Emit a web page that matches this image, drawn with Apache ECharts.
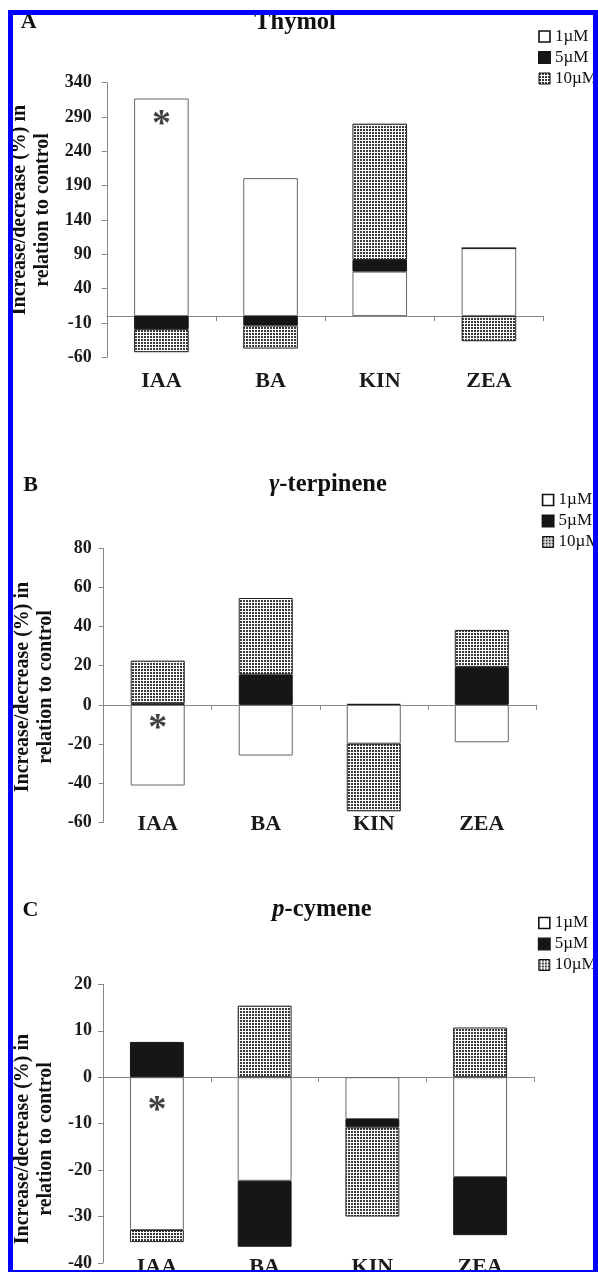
<!DOCTYPE html>
<html><head><meta charset="utf-8">
<script src="https://cdn.jsdelivr.net/npm/echarts/dist/echarts.min.js"></script>
<style>html,body{margin:0;padding:0;background:#fff}#c{width:598px;height:1272px}</style>
</head><body><div id="c"></div>
<script>
const categories = ['IAA', 'BA', 'KIN', 'ZEA'];
const seriesNames = ['1µM', '5µM', '10µM'];
// Panel A: Thymol
const thymol1 = [317, 201, 64.8, 99];
const thymol5 = [-19, -13.8, 17, 0];
const thymol10 = [-33.6, -33.5, 198.5, -36.6];
// Panel B: gamma-terpinene
const gterp1 = [-41.2, -25.9, -19.8, -19.1];
const gterp5 = [0.8, 15.5, 0.5, 19.4];
const gterp10 = [21.8, 39.1, -34.6, 18.9];
// Panel C: p-cymene
const pcym1 = [-32.9, -22.3, -9.0, -21.5];
const pcym5 = [7.6, -14.2, -1.8, -12.5];
const pcym10 = [-2.6, 15.4, -19.2, 10.7];
// asterisk marks (on IAA)
const starCategory = 'IAA';
const starValues = [278, -12.6, -7.4];
// y axis ranges
const yMin = [-60, -60, -40];
const yMax = [340, 80, 20];
const yStep = [50, 20, 10];
const panelLetters = ['A', 'B', 'C'];
const panelTitles = ['Thymol', '{i|γ}-terpinene', '{i|p}-cymene'];
const yName = 'Increase/decrease (%) in\nrelation to control';

const SERIF = '"Liberation Serif","Times New Roman",serif';
const panelData = [[thymol1, thymol5, thymol10], [gterp1, gterp5, gterp10], [pcym1, pcym5, pcym10]];

// layout (pixels)
const grids = [
  {left: 106.8, top: 82.7, width: 436.7, height: 274.6},
  {left: 103.7, top: 548.3, width: 432.1, height: 274},
  {left: 103, top: 984.3, width: 431, height: 278.7}
];
const labelMargin = [15, 12, 11];
const xLabelMargin = [13, -9, -6.5];
const legendPos = [{left: 538, top: 28}, {left: 541.6, top: 491.5}, {left: 537.8, top: 914.5}];
const titlePos = [{x: 295, y: 22.5}, {x: 328, y: 485}, {x: 322, y: 910}];
const letterPos = [{x: 28.6, y: 22.5}, {x: 30.5, y: 485}, {x: 30.5, y: 910}];
const yNamePos = [{x: 31, y: 210}, {x: 34.3, y: 687}, {x: 34.5, y: 1139}];

// dotted pattern
const pc = document.createElement('canvas');
pc.width = 3; pc.height = 3;
const g = pc.getContext('2d');
g.fillStyle = '#ffffff'; g.fillRect(0, 0, 3, 3);
g.fillStyle = '#3a3a3a'; g.fillRect(0, 0, 2, 2);
const dotted = {image: pc, repeat: 'repeat'};

const styles = [
  {color: '#ffffff', borderColor: '#666', borderWidth: 1},
  {color: '#161616', borderColor: '#161616', borderWidth: 1},
  {color: dotted, borderColor: '#222', borderWidth: 1}
];

const option = {
  animation: false,
  backgroundColor: '#fff',
  grid: grids.map(gr => Object.assign({containLabel: false, outerBoundsMode: 'none'}, gr)),
  xAxis: [],
  yAxis: [],
  legend: [],
  series: [],
  graphic: []
};

for (let k = 0; k < 3; k++) {
  option.xAxis.push({
    type: 'category', gridIndex: k, data: categories, position: 'bottom',
    axisLine: {show: true, onZero: true, lineStyle: {color: '#888', width: 1}},
    axisTick: {show: true, length: 5, lineStyle: {color: '#888'}},
    axisLabel: {show: false}, splitLine: {show: false}
  });
  option.xAxis.push({
    type: 'category', gridIndex: k, data: categories, position: 'bottom',
    axisLine: {show: false, onZero: false}, axisTick: {show: false},
    axisLabel: {show: true, margin: xLabelMargin[k], color: '#1a1a1a', fontFamily: SERIF, fontWeight: 'bold', fontSize: 22},
    splitLine: {show: false}
  });
  option.yAxis.push({
    type: 'value', gridIndex: k, min: yMin[k], max: yMax[k], interval: yStep[k],
    axisLine: {show: true, lineStyle: {color: '#888', width: 1}},
    axisTick: {show: true, length: 5, lineStyle: {color: '#888'}},
    axisLabel: {margin: labelMargin[k], color: '#1a1a1a', fontFamily: SERIF, fontWeight: 'bold', fontSize: 18},
    splitLine: {show: false}
  });
  option.legend.push({
    orient: 'vertical', left: legendPos[k].left, top: legendPos[k].top,
    itemWidth: 11, itemHeight: 11, itemGap: 4, icon: 'rect', selectedMode: false, padding: 0,
    textStyle: {fontFamily: SERIF, fontSize: 17, color: '#111', lineHeight: 17},
    data: [
      {name: seriesNames[0], itemStyle: {color: '#fff', borderColor: '#111', borderWidth: 1.6}},
      {name: seriesNames[1]},
      {name: seriesNames[2], itemStyle: {borderColor: '#111', borderWidth: 1}}
    ]
  });
  for (let s = 0; s < 3; s++) {
    option.series.push({
      type: 'bar', name: seriesNames[s], xAxisIndex: 2 * k, yAxisIndex: k,
      stack: 'p' + k, barWidth: '50%', data: panelData[k][s],
      itemStyle: styles[s], emphasis: {disabled: true}
    });
  }
  option.series.push({
    type: 'scatter', name: 'star' + k, xAxisIndex: 2 * k, yAxisIndex: k,
    data: [[starCategory, starValues[k]]], symbol: 'circle', symbolSize: 1,
    itemStyle: {color: 'rgba(0,0,0,0)'}, silent: true, z: 10,
    label: {show: true, position: 'inside', formatter: '*', color: '#111', fontFamily: SERIF, fontWeight: 'bold', fontSize: 38}
  });
  option.graphic.push({
    type: 'text', x: titlePos[k].x, y: titlePos[k].y, silent: true,
    style: {text: panelTitles[k], textAlign: 'center', textVerticalAlign: 'middle',
      font: 'bold 24.5px ' + SERIF, fill: '#111',
      rich: {i: {fontStyle: 'italic', fontWeight: 'bold', fontSize: 24.5, fontFamily: SERIF, fill: '#111'}}}
  });
  option.graphic.push({
    type: 'text', x: letterPos[k].x, y: letterPos[k].y, silent: true,
    style: {text: panelLetters[k], textAlign: 'center', textVerticalAlign: 'middle', font: 'bold 22px ' + SERIF, fill: '#111'}
  });
  option.graphic.push({
    type: 'text', x: yNamePos[k].x, y: yNamePos[k].y, rotation: Math.PI / 2, silent: true,
    style: {text: yName, textAlign: 'center', textVerticalAlign: 'middle', font: 'bold 20px ' + SERIF, lineHeight: 23, fill: '#111'}
  });
}
// blue frame
option.graphic.push({
  type: 'polyline', silent: true, z: 100,
  shape: {points: [[10.5, 1272], [10.5, 12.5], [595.5, 12.5], [595.5, 1272]]},
  style: {stroke: '#0000ff', lineWidth: 5, fill: null}
});
option.graphic.push({
  type: 'line', silent: true, z: 100,
  shape: {x1: 8, y1: 1271, x2: 598, y2: 1271},
  style: {stroke: '#0000ff', lineWidth: 2}
});

const chart = echarts.init(document.getElementById('c'), null, {renderer: 'canvas'});
chart.setOption(option);
</script>
</body></html>
